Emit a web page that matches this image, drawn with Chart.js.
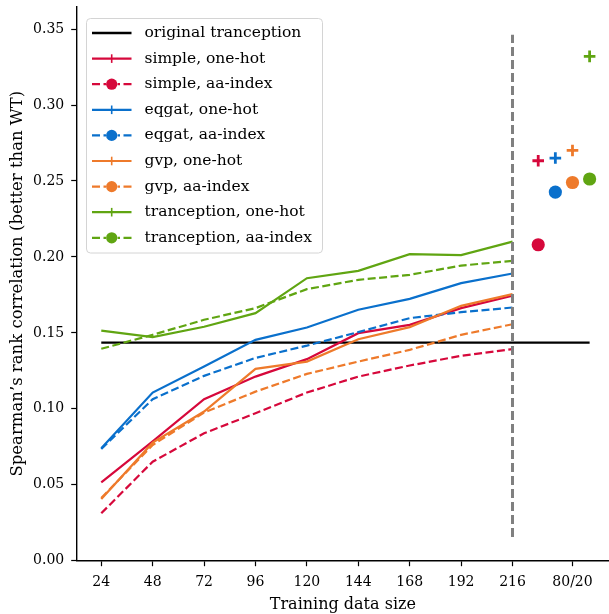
<!DOCTYPE html>
<html><head><meta charset="utf-8">
<script src="https://cdn.jsdelivr.net/npm/chart.js@4.4.0/dist/chart.umd.min.js"></script>
<style>html,body{margin:0;padding:0;background:#fff;overflow:hidden}#wrap{width:609px;height:614px}</style>
</head><body><div id="wrap"><canvas id="c" width="609" height="614"></canvas></div>
<script>
// ---- data ----
const trainSizes = ['24','48','72','96','120','144','168','192','216'];
const splitLabel = '80/20';
const simpleOneHot       = [0.0516,0.0785,0.1063,0.1212,0.1327,0.1498,0.1553,0.1663,0.1744];
const simpleAaIndex      = [0.0312,0.0652,0.0839,0.0971,0.1107,0.1212,0.1285,0.1349,0.1393];
const eqgatOneHot        = [0.0740,0.1107,0.1278,0.1454,0.1535,0.1652,0.1724,0.1827,0.1891];
const eqgatAaIndex       = [0.0735,0.1063,0.1217,0.1335,0.1416,0.1505,0.1597,0.1636,0.1667];
const gvpOneHot          = [0.0406,0.0777,0.0982,0.1263,0.1311,0.1458,0.1538,0.1678,0.1755];
const gvpAaIndex         = [0.0413,0.0762,0.0975,0.1113,0.1230,0.1311,0.1388,0.1487,0.1557];
const tranceptionOneHot  = [0.1515,0.1472,0.1540,0.1630,0.1860,0.1908,0.2018,0.2012,0.2101];
const tranceptionAaIndex = [0.1395,0.1487,0.1586,0.1663,0.1788,0.1849,0.1882,0.1943,0.1974];
// 80/20 split results, order: simple, eqgat, gvp, tranception
const splitOneHot  = [0.2633,0.2651,0.2701,0.3320];
const splitAaIndex = [0.2080,0.2427,0.2490,0.2513];
const originalTranception = 0.1436;
const splitLineRange = [0.0156, 0.3463];
const yTicks = [0,0.05,0.10,0.15,0.20,0.25,0.30,0.35];

// ---- styles ----
const C = {simple:'#d6083b', eqgat:'#0a70cc', gvp:'#ee7a2b', tranception:'#60a512'};
const modelColors = [C.simple, C.eqgat, C.gvp, C.tranception];
const FONT = 'DejaVu Serif';
const DASH = [8, 3.5];

const n = trainSizes.length;
const splitX = i => n - 0.5 + i/3;
const pts = vals => vals.map((v,i)=>({x:i, y:v}));

const series = [
  {label:'simple, one-hot', v:simpleOneHot, c:C.simple, dashed:false},
  {label:'simple, aa-index', v:simpleAaIndex, c:C.simple, dashed:true},
  {label:'eqgat, one-hot', v:eqgatOneHot, c:C.eqgat, dashed:false},
  {label:'eqgat, aa-index', v:eqgatAaIndex, c:C.eqgat, dashed:true},
  {label:'gvp, one-hot', v:gvpOneHot, c:C.gvp, dashed:false},
  {label:'gvp, aa-index', v:gvpAaIndex, c:C.gvp, dashed:true},
  {label:'tranception, one-hot', v:tranceptionOneHot, c:C.tranception, dashed:false},
  {label:'tranception, aa-index', v:tranceptionAaIndex, c:C.tranception, dashed:true},
];

const datasets = [];
datasets.push({label:'original tranception', legendMarker:'none',
  data:[{x:0,y:originalTranception},{x:splitX(3),y:originalTranception}],
  borderColor:'#000', borderWidth:2.4, pointRadius:0, fill:false});
series.forEach(s=>datasets.push({label:s.label, legendMarker: s.dashed?'circle':'cross',
  data:pts(s.v), borderColor:s.c, borderWidth:2.2, borderDash: s.dashed?DASH:[],
  pointRadius:0, fill:false, tension:0}));
datasets.push({label:'_split_line', data:[{x:n-1,y:splitLineRange[0]},{x:n-1,y:splitLineRange[1]}],
  borderColor:'#808080', borderWidth:3, borderDash:[9,4], pointRadius:0, fill:false});
datasets.push({label:'_split_onehot', showLine:false,
  data: splitOneHot.map((v,i)=>({x:splitX(i), y:v})),
  pointStyle:'cross', pointRadius:5.8, pointBorderWidth:2.8, pointBorderColor:modelColors, pointBackgroundColor:modelColors,
  pointHoverRadius:5.8});
datasets.push({label:'_split_aa', showLine:false,
  data: splitAaIndex.map((v,i)=>({x:splitX(i), y:v})),
  pointStyle:'circle', pointRadius:6.6, pointBorderWidth:0, pointBackgroundColor:modelColors, pointBorderColor:modelColors,
  pointHoverRadius:6.6});
datasets.forEach((d,i)=>{ d.order = datasets.length - i; });

// ---- custom legend ----
const legendPlugin = {
  id:'mplLegend',
  afterDatasetsDraw(chart){
    const ctx = chart.ctx;
    const items = chart.data.datasets.filter(d=>!d.label.startsWith('_'));
    const bx=86.5, by=18.5, bw=236, bh=234.5, r=4;
    ctx.save();
    ctx.beginPath();
    ctx.moveTo(bx+r,by); ctx.lineTo(bx+bw-r,by); ctx.quadraticCurveTo(bx+bw,by,bx+bw,by+r);
    ctx.lineTo(bx+bw,by+bh-r); ctx.quadraticCurveTo(bx+bw,by+bh,bx+bw-r,by+bh);
    ctx.lineTo(bx+r,by+bh); ctx.quadraticCurveTo(bx,by+bh,bx,by+bh-r);
    ctx.lineTo(bx,by+r); ctx.quadraticCurveTo(bx,by,bx+r,by); ctx.closePath();
    ctx.fillStyle='rgba(255,255,255,0.8)'; ctx.fill();
    ctx.strokeStyle='#d4d4d4'; ctx.lineWidth=1; ctx.stroke();
    items.forEach((d,i)=>{
      const y = 33 + i*25.6;
      ctx.strokeStyle = d.borderColor; ctx.lineWidth = d.borderWidth;
      ctx.setLineDash([]);
      ctx.beginPath();
      if (d.legendMarker==='circle'){
        ctx.moveTo(92,y); ctx.lineTo(100,y); ctx.moveTo(103.5,y); ctx.lineTo(106,y);
        ctx.moveTo(117.5,y); ctx.lineTo(120,y); ctx.moveTo(123.5,y); ctx.lineTo(131.5,y);
      } else { ctx.moveTo(92,y); ctx.lineTo(131.5,y); }
      ctx.stroke();
      if (d.legendMarker==='cross'){
        ctx.lineWidth=1.6; ctx.beginPath();
        ctx.moveTo(111.7,y-4.3); ctx.lineTo(111.7,y+4.3); ctx.stroke();
      } else if (d.legendMarker==='circle'){
        ctx.fillStyle=d.borderColor; ctx.beginPath(); ctx.arc(111.7,y,5.6,0,Math.PI*2); ctx.fill();
      }
      ctx.fillStyle='#000'; ctx.font='15.5px "'+FONT+'"'; ctx.textBaseline='middle'; ctx.textAlign='left';
      ctx.fillText(d.label, 144.5, y);
    });
    ctx.restore();
  }
};

const zeroPad = s => { s.paddingLeft = 0; s.paddingRight = 0; s.paddingTop = 0; s.paddingBottom = 0; };

new Chart(document.getElementById('c'), {
  type:'line',
  data:{datasets},
  options:{
    responsive:false, devicePixelRatio:1, animation:false,
    layout:{autoPadding:false, padding:{top:6.6,left:0,right:0,bottom:0}},
    plugins:{legend:{display:false}, tooltip:{enabled:false}},
    scales:{
      x:{type:'linear', min:-0.478, max:9.877,
        afterFit:s=>{ s.height=53.3; zeroPad(s); },
        afterBuildTicks:s=>{ s.ticks = trainSizes.map((_,i)=>({value:i})).concat([{value:n+1/6}]); },
        ticks:{autoSkip:false, maxRotation:0, minRotation:0, color:'#000', padding:8,
          font:{family:FONT,size:14},
          callback:(v,i)=> i<n ? trainSizes[i] : splitLabel},
        grid:{drawOnChartArea:false, drawTicks:true, tickLength:5.5, tickColor:'#000', tickWidth:1.2},
        border:{display:true,color:'#000',width:1.4},
        title:{display:true, text:'Training data size', color:'#000', font:{family:FONT,size:16}, padding:{top:0,bottom:0}}
      },
      y:{type:'linear', min:0, max:0.3648,
        afterFit:s=>{ s.width=76.7; zeroPad(s); },
        afterBuildTicks:s=>{ s.ticks = yTicks.map(v=>({value:v})); },
        ticks:{color:'#000', padding:7, font:{family:FONT,size:14}, callback:v=>v.toFixed(2)},
        grid:{drawOnChartArea:false, drawTicks:true, tickLength:5.5, tickColor:'#000', tickWidth:1.2},
        border:{display:true,color:'#000',width:1.4},
        title:{display:true, text:'Spearman\u2019s rank correlation (better than WT)', color:'#000', font:{family:FONT,size:16.5}, padding:{top:8,bottom:0}}
      }
    }
  },
  plugins:[legendPlugin]
});
</script></body></html>
